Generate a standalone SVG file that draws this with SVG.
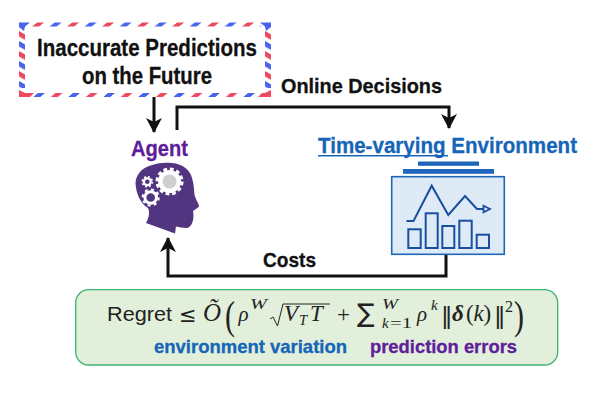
<svg xmlns="http://www.w3.org/2000/svg" width="600" height="400" viewBox="0 0 600 400">
<style>
.b{font-family:"Liberation Sans",Arial,sans-serif;font-weight:700;fill:#111;stroke:#111;stroke-width:.3}
.s{font-family:"Liberation Sans",Arial,sans-serif;font-weight:700;stroke-width:.3}
.m{font-family:"Liberation Serif","Times New Roman",serif;font-style:italic;fill:#222}
.r{font-family:"Liberation Serif","Times New Roman",serif;fill:#222}
.d{font-family:"DejaVu Sans",sans-serif;fill:#222}
.conn{fill:none;stroke:#111;stroke-width:3}
.bar{fill:none;stroke:#1a4fa0;stroke-width:2}
</style>
<defs>
<marker id="ah" markerUnits="userSpaceOnUse" markerWidth="20" markerHeight="16" refX="14" refY="8" orient="auto"><path d="M0 0L15 8L0 16L4 8Z" fill="#111"/></marker>
<pattern id="top" patternUnits="userSpaceOnUse" width="35" height="4" patternTransform="translate(37 22.500) skewX(-50)"><rect x="0" width="7" height="4" fill="#ee4a5f"/><rect x="17.500" width="7" height="4" fill="#4a63ee"/></pattern>
<pattern id="bot" patternUnits="userSpaceOnUse" width="35" height="4" patternTransform="translate(38 93) skewX(-50)"><rect x="0" width="7" height="4" fill="#4a63ee"/><rect x="17.500" width="7" height="4" fill="#ee4a5f"/></pattern>
<pattern id="lft" patternUnits="userSpaceOnUse" width="6" height="20" patternTransform="translate(19 31) skewY(30)"><rect y="0" width="6" height="5.500" fill="#ee4a5f"/><rect y="10" width="6" height="5.500" fill="#4a63ee"/></pattern>
<pattern id="rgt" patternUnits="userSpaceOnUse" width="6" height="20" patternTransform="translate(265 31) skewY(30)"><rect y="0" width="6" height="5.500" fill="#ee4a5f"/><rect y="10" width="6" height="5.500" fill="#4a63ee"/></pattern>
</defs>
<g id="connectors">
<path class="conn" d="M154 97V132" marker-end="url(#ah)"/>
<path class="conn" d="M177 130V107H449V128" marker-end="url(#ah)"/>
<path class="conn" d="M446 254V276H168V238" marker-end="url(#ah)"/>
</g>
<g id="predictions">
<rect x="19" y="22.500" width="252" height="74.500" fill="#fff"/>
<rect x="29" y="22.500" width="232" height="4" fill="url(#top)"/>
<rect x="29" y="93" width="232" height="4" fill="url(#bot)"/>
<rect x="19" y="30" width="6" height="58" fill="url(#lft)"/>
<rect x="265" y="30" width="6" height="58" fill="url(#rgt)"/>
<path d="M19 22.500H30L25 26.500L24 31L19 27ZM271 22.500H260L265 26.500L266 31L271 27Z" fill="#4a63ee"/>
<path d="M19 97H30L34 93H25L19 90ZM271 97H258L262 93H265L271 90Z" fill="#ee4a5f"/>
<text class="b" x="37" y="56" font-size="23.500" textLength="220" lengthAdjust="spacingAndGlyphs">Inaccurate Predictions</text>
<text class="b" x="82" y="84" font-size="23.500" textLength="130" lengthAdjust="spacingAndGlyphs">on the Future</text>
</g>
<text id="online-label" class="b" x="281" y="93" font-size="21" textLength="161" lengthAdjust="spacingAndGlyphs">Online Decisions</text>
<text id="costs-label" class="b" x="263" y="267" font-size="21" textLength="53" lengthAdjust="spacingAndGlyphs">Costs</text>
<g id="agent">
<text class="s" x="131" y="156" font-size="22" fill="#5f1d9b" stroke="#5f1d9b" textLength="57" lengthAdjust="spacingAndGlyphs">Agent</text>
<path d="M146 223C149 218 150 212 148 208C140 203 136 193 135.500 183C136 175 141 169 149 166C156 163 165 162 172 163C183 164 190 170 192 178C194 184 194 190 194.500 195C196 200 199 204 199 206.500C197 209 194 210 193 211C193.500 214 194 218 192.500 222C191 226 189 228 186 228C183 228 179 227 176 226.500C175.500 229 175.500 231 175 233.500Z" fill="#523580"/>
<circle cx="169.500" cy="181.500" r="11.500" fill="#fff"/>
<circle cx="169.500" cy="181.500" r="12.500" fill="none" stroke="#fff" stroke-width="3" stroke-dasharray="3.800 2.740"/>
<circle cx="169.500" cy="181.500" r="7" fill="#cfcfcf"/>
<circle cx="147.300" cy="181.700" r="4.500" fill="#fff"/>
<circle cx="147.300" cy="181.700" r="5" fill="none" stroke="#fff" stroke-width="1.600" stroke-dasharray="2 1.930"/>
<circle cx="147.300" cy="181.700" r="2.300" fill="#523580"/>
<circle cx="150.700" cy="197.500" r="7.300" fill="#fff"/>
<circle cx="150.700" cy="197.500" r="8" fill="none" stroke="#fff" stroke-width="2.200" stroke-dasharray="3 3.280"/>
<circle cx="150.700" cy="197.500" r="4.300" fill="#523580"/>
</g>
<g id="environment">
<text class="s" x="318" y="153" font-size="22.500" fill="#1565b8" stroke="#1565b8" textLength="259" lengthAdjust="spacingAndGlyphs">Time-varying Environment</text>
<rect x="318" y="155" width="130" height="1.500" fill="#1565b8"/>
<rect x="418" y="161.500" width="61" height="4.300" fill="#1f66bb"/>
<rect x="403" y="169" width="91" height="4.800" fill="#1f66bb"/>
<rect x="391.700" y="176.700" width="112.600" height="77.600" fill="#deeaf6" stroke="#1f66bb" stroke-width="1.600"/>
<path d="M406.500 221H413.500L431.700 185.700L448.300 215L465 196L477 209H484" fill="none" stroke="#1a4fa0" stroke-width="2"/>
<path d="M483.500 205.700L490 209L483.500 212.300Z" fill="#deeaf6" stroke="#1a4fa0" stroke-width="1.800"/>
<rect class="bar" x="408.300" y="229.300" width="12.400" height="18.700"/>
<rect class="bar" x="425.700" y="213.300" width="12" height="34.700"/>
<rect class="bar" x="442.300" y="226" width="12" height="22"/>
<rect class="bar" x="459.300" y="220.700" width="12.400" height="27.300"/>
<rect class="bar" x="476.700" y="234.700" width="12.300" height="13.300"/>
</g>
<g id="regret">
<rect x="75.700" y="289.700" width="482" height="75.300" rx="13" fill="#e2efda" stroke="#3cb371" stroke-width="1.300"/>
<text x="107" y="321" font-family="Liberation Sans,Arial,sans-serif" font-size="20" fill="#222" textLength="65" lengthAdjust="spacingAndGlyphs">Regret</text>
<text class="d" x="179" y="322" font-size="21">≤</text>
<text class="m" x="203" y="321" font-size="25">Õ</text>
<text class="r" x="225" y="329" font-size="40" textLength="10" lengthAdjust="spacingAndGlyphs">(</text>
<text class="m" x="238.500" y="321" font-size="21">ρ</text>
<text class="m" x="250" y="309" font-size="15" textLength="17" lengthAdjust="spacingAndGlyphs">W</text>
<path d="M270 319L273 317L277.500 326L283 304H330" fill="none" stroke="#222" stroke-width="1"/>
<text class="m" x="284" y="321" font-size="23">V</text>
<text class="m" x="299" y="325" font-size="14.500">T</text>
<text class="m" x="310" y="321" font-size="23">T</text>
<text class="r" x="337" y="321.500" font-size="23">+</text>
<text class="d" x="357" y="322" font-size="26">∑</text>
<text class="m" x="382" y="309" font-size="15" textLength="16" lengthAdjust="spacingAndGlyphs">W</text>
<text class="m" x="382" y="328" font-size="15">k</text>
<text class="r" x="390" y="328" font-size="15" textLength="22" lengthAdjust="spacingAndGlyphs">=1</text>
<text class="m" x="417" y="321" font-size="21">ρ</text>
<text class="m" x="431" y="310" font-size="15">k</text>
<text class="d" x="441" y="324" font-size="23">‖</text>
<text class="r" x="452" y="321" font-size="23" font-weight="700" font-style="italic">δ</text>
<text class="r" x="466" y="321" font-size="23">(</text>
<text class="m" x="473.500" y="321" font-size="23">k</text>
<text class="r" x="483.500" y="321" font-size="23">)</text>
<text class="d" x="494" y="324" font-size="23">‖</text>
<text class="r" x="505" y="312" font-size="16">2</text>
<text class="r" x="514" y="329" font-size="40" textLength="10" lengthAdjust="spacingAndGlyphs">)</text>
<text class="s" x="154" y="353" font-size="19" fill="#1565b8" stroke="#1565b8" textLength="193" lengthAdjust="spacingAndGlyphs">environment variation</text>
<text class="s" x="370" y="353" font-size="19" fill="#5f1d9b" stroke="#5f1d9b" textLength="147" lengthAdjust="spacingAndGlyphs">prediction errors</text>
</g>
</svg>
